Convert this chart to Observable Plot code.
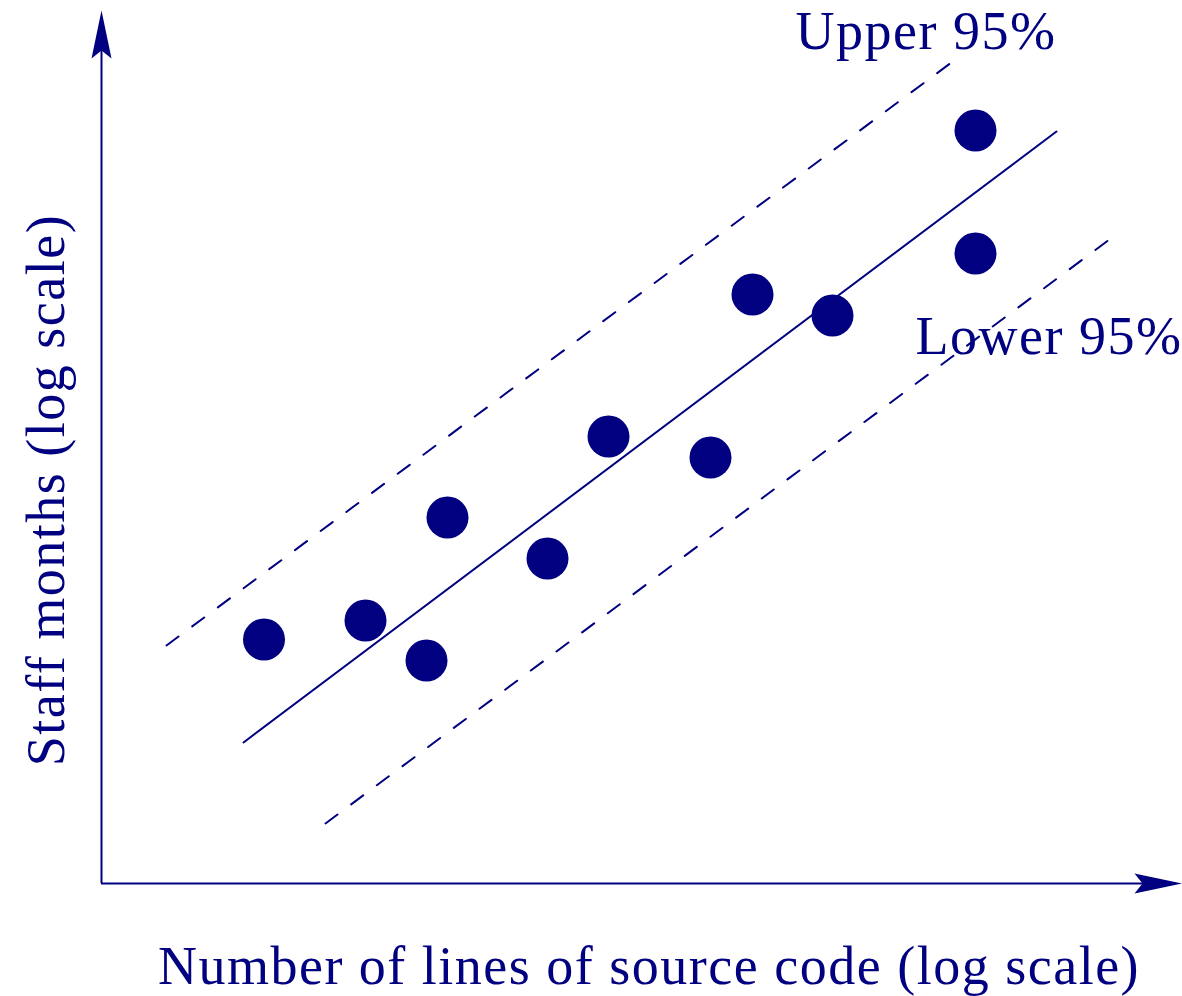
<!DOCTYPE html>
<html><head><meta charset="utf-8">
<script src="https://cdn.jsdelivr.net/npm/d3@7"></script>
<script src="https://cdn.jsdelivr.net/npm/@observablehq/plot@0.6"></script>
<style>
body{margin:0;background:#fff;}
#chart svg{display:block;overflow:visible;}
#chart text{letter-spacing:1.5px;}
</style>
</head><body><div id="chart"></div>
<script>
// Data (units: log-scaled arbitrary units)
const sourceLines = [1.625, 2.64, 3.25, 3.46, 4.46, 5.07, 6.09, 6.51, 7.31, 8.74, 8.74];
const staffMonths = [2.44, 2.63, 2.23, 3.66, 3.25, 4.47, 4.26, 5.89, 5.68, 7.53, 6.30];
const fitX = [1.42, 9.55];
const fitY = [1.41, 7.52];
const upperX = [0.65, 8.58];
const upperY = [2.38, 8.27];
const lowerX = [2.24, 10.16];
const lowerY = [0.60, 6.50];
const bandLabels = ["Upper 95%", "Lower 95%"];
const bandLabelX = [6.94, 8.14];
const bandLabelY = [8.35, 5.30];
const xTitle = "Number of lines of source code (log scale)";
const yTitle = "Staff months (log scale)";
const xAxisEnd = 10.81;
const yAxisEnd = 8.73;

const color = "#000080";
const points = sourceLines.map((x, i) => ({x, y: staffMonths[i]}));
const line = (xs, ys) => xs.map((x, i) => ({x, y: ys[i]}));
const labels = bandLabels.map((t, i) => ({t, x: bandLabelX[i], y: bandLabelY[i]}));
const stealth = {
  draw(ctx) {
    ctx.moveTo(0, 0); ctx.lineTo(10, 48); ctx.lineTo(0, 40); ctx.lineTo(-10, 48); ctx.closePath();
  }
};

const plot = Plot.plot({
  width: 1182, height: 996,
  marginLeft: 101, marginRight: 0, marginTop: 0, marginBottom: 113,
  x: {domain: [0, 10.81], axis: null},
  y: {domain: [0, 8.83], axis: null},
  style: {fontFamily: "'Liberation Serif', 'Times New Roman', serif", background: "#fff"},
  marks: [
    Plot.ruleY([0], {x1: 0, x2: xAxisEnd - 0.3, stroke: color, strokeWidth: 2}),
    Plot.ruleX([0], {y1: 0, y2: yAxisEnd - 0.3, stroke: color, strokeWidth: 2}),
    Plot.dot([{x: 0, y: yAxisEnd}], {x: "x", y: "y", symbol: stealth, fill: color, stroke: "none", rotate: 0}),
    Plot.dot([{x: xAxisEnd, y: 0}], {x: "x", y: "y", symbol: stealth, fill: color, stroke: "none", rotate: 90}),
    Plot.line(line(fitX, fitY), {x: "x", y: "y", stroke: color, strokeWidth: 2}),
    Plot.line(line(upperX, upperY), {x: "x", y: "y", stroke: color, strokeWidth: 2, strokeDasharray: "15,17"}),
    Plot.line(line(lowerX, lowerY), {x: "x", y: "y", stroke: color, strokeWidth: 2, strokeDasharray: "15,17"}),
    Plot.dot(points, {x: "x", y: "y", r: 21, fill: color, stroke: "none"}),
    Plot.text(labels, {x: "x", y: "y", text: "t", textAnchor: "start", lineAnchor: "bottom", fill: color, fontSize: 54}),
    Plot.text([xTitle], {frameAnchor: "bottom", dx: 7, dy: 100, textAnchor: "middle", lineAnchor: "bottom", fill: color, fontSize: 54, text: d => d}),
    Plot.text([yTitle], {frameAnchor: "left", dx: -55, dy: 48, rotate: -90, textAnchor: "middle", lineAnchor: "middle", fill: color, fontSize: 54, text: d => d})
  ]
});
document.getElementById("chart").appendChild(plot);
</script></body></html>
